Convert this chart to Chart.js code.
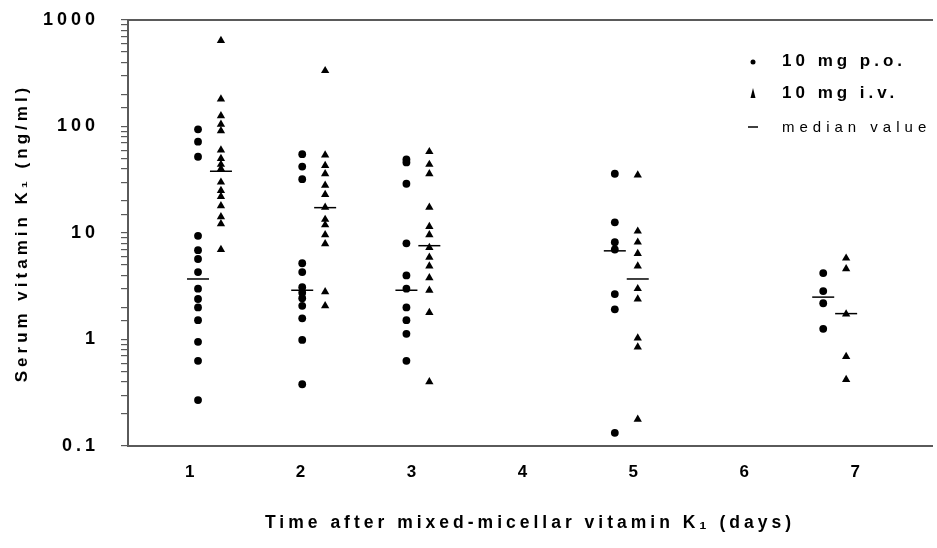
<!DOCTYPE html>
<html>
<head>
<meta charset="utf-8">
<script src="https://cdn.jsdelivr.net/npm/chart.js@4.4.1/dist/chart.umd.min.js"></script>
<style>
  body { margin: 0; background: #fff; }
  #wrap { width: 937px; height: 548px; }
</style>
</head>
<body>
<div id="wrap"><canvas id="myChart" width="937" height="548"></canvas></div>
<script>
"use strict";

// days with samples, and the day ticks along the axis
const days = [1, 2, 3, 5, 7];
const tickDays = [1, 2, 3, 4, 5, 6, 7];
const yTicks = [0.1, 1, 10, 100, 1000];
const yTickLabels = ['0.1', '1', '10', '100', '1000'];

// serum vitamin K1 (ng/ml), one list per day
const poValues = [
    [94, 72, 52, 9.4, 6.9, 5.7, 4.3, 3.0, 2.4, 2.0, 1.52, 0.95, 0.63, 0.27],
    [55, 42, 32, 5.2, 4.3, 3.1, 2.75, 2.44, 2.07, 1.58, 0.99, 0.38],
    [49, 46, 29, 8.0, 4.0, 3.0, 2.0, 1.52, 1.13, 0.63],
    [36, 12.6, 8.2, 7.0, 2.67, 1.92, 0.133],
    [4.2, 2.85, 2.19, 1.26]
];
const ivValues = [
    [640, 181, 126, 105, 91, 60, 50, 44, 40, 30, 25, 22, 18, 14.2, 12.2, 7.0],
    [334, 54, 43, 36, 28, 23, 17.4, 13.4, 11.9, 9.6, 7.9, 2.8, 2.07],
    [58, 44, 36, 17.4, 11.5, 9.6, 7.3, 5.9, 4.9, 3.8, 2.9, 1.79, 0.40],
    [35, 10.4, 8.2, 6.4, 4.9, 3.0, 2.4, 1.03, 0.85, 0.178],
    [5.8, 4.6, 1.73, 0.69, 0.42]
];
const poMedian = [3.7, 2.9, 2.9, 6.8, 2.5];
const ivMedian = [38, 17.3, 7.6, 3.7, 1.75];

const FONT = '"Liberation Sans", Arial, sans-serif';
const SHIFT = 0.11; // p.o. left of the day, i.v. right of it
let chart;

function toPoints(groups, shift) {
    let pts = [];
    groups.forEach((vals, i) => {
        vals.forEach(v => pts.push({ x: days[i] + shift, y: v }));
    });
    return pts;
}

function medianPoints(meds, shift) {
    return meds.map((v, i) => ({ x: days[i] + shift, y: v }));
}

// keep the scales from pushing the plot area inwards
function noPad(s) {
    s.paddingLeft = 0;
    s.paddingRight = 0;
    s.paddingTop = 0;
    s.paddingBottom = 0;
}

// the original uses widely spaced lettering everywhere
const spacingPlugin = {
    id: 'spacing',
    beforeUpdate(c) { c.ctx.letterSpacing = '4px'; },
    beforeDraw(c) { c.ctx.letterSpacing = '4px'; }
};

const sideLegend = {
    id: 'sideLegend',
    afterDraw(c) {
        const ctx = c.ctx;
        const ds = c.data.datasets;
        ctx.save();
        ctx.fillStyle = '#000';
        ctx.strokeStyle = '#000';
        ctx.textBaseline = 'middle';
        ctx.textAlign = 'left';

        // dot
        ctx.beginPath();
        ctx.arc(753, 62, 2.5, 0, Math.PI * 2);
        ctx.fill();
        // narrow triangle
        ctx.beginPath();
        ctx.moveTo(753, 88);
        ctx.lineTo(755.5, 98);
        ctx.lineTo(750.5, 98);
        ctx.closePath();
        ctx.fill();
        // dash
        ctx.lineWidth = 1.5;
        ctx.beginPath();
        ctx.moveTo(748, 127);
        ctx.lineTo(758, 127);
        ctx.stroke();

        ctx.letterSpacing = '4px';
        ctx.font = 'bold 17px ' + FONT;
        ctx.fillText(ds[0].label, 782, 61);
        ctx.fillText(ds[1].label, 782, 93);
        ctx.letterSpacing = '5px';
        ctx.font = '15px ' + FONT;
        ctx.fillText(ds[2].label, 782, 128);
        ctx.restore();
    }
};

function initChart() {
    var ctx = document.getElementById('myChart').getContext('2d');
    Chart.defaults.font.family = FONT;
    Chart.defaults.color = '#000';

    chart = new Chart(ctx, {
        type: 'scatter',
        data: {
            datasets: [{
                label: '10 mg p.o.',
                data: toPoints(poValues, -SHIFT),
                pointStyle: 'circle',
                pointRadius: 3.9,
                backgroundColor: '#000',
                borderWidth: 0
            },
            {
                label: '10 mg i.v.',
                data: toPoints(ivValues, SHIFT),
                pointStyle: 'triangle',
                pointRadius: 4.8,
                backgroundColor: '#000',
                borderWidth: 0
            },
            {
                label: 'median value',
                data: medianPoints(poMedian, -SHIFT),
                pointStyle: 'line',
                pointRadius: 11,
                borderColor: '#000',
                borderWidth: 1.5
            },
            {
                label: 'median value',
                data: medianPoints(ivMedian, SHIFT),
                pointStyle: 'line',
                pointRadius: 11,
                borderColor: '#000',
                borderWidth: 1.5
            }]
        },
        options: {
            responsive: false,
            animation: false,
            events: [],
            layout: {
                autoPadding: false,
                padding: { top: 20, right: 5, bottom: 0, left: 0 }
            },
            scales: {
                // data axis: places the marks
                x: {
                    type: 'linear',
                    position: 'bottom',
                    min: 0.218,
                    max: 7.934,
                    afterFit: s => { s.height = 0; noPad(s); },
                    ticks: { display: false },
                    grid: { display: false, drawTicks: false },
                    border: { display: false }
                },
                // day labels, spaced as in the original figure
                xl: {
                    type: 'linear',
                    position: 'bottom',
                    min: 0.426,
                    max: 7.675,
                    afterBuildTicks: s => { s.ticks = tickDays.map(v => ({ value: v })); },
                    afterFit: s => { s.height = 102; noPad(s); },
                    ticks: {
                        padding: 16,
                        font: { size: 17, weight: 'bold' },
                        color: '#000'
                    },
                    grid: { display: false, drawTicks: false },
                    border: { display: true, color: '#5a5a5a', width: 2 },
                    title: {
                        display: true,
                        text: 'Time after mixed-micellar vitamin K\u2081 (days)',
                        font: { size: 17.5, weight: 'bold' },
                        color: '#000',
                        padding: { top: 0, bottom: 14 }
                    }
                },
                x2: {
                    type: 'linear',
                    position: 'top',
                    min: 0,
                    max: 1,
                    afterFit: s => { s.height = 0; noPad(s); },
                    ticks: { display: false },
                    grid: { display: false, drawTicks: false },
                    border: { display: true, color: '#5a5a5a', width: 2 }
                },
                y: {
                    type: 'logarithmic',
                    min: 0.1,
                    max: 1000,
                    afterFit: s => { s.width = 128; noPad(s); },
                    ticks: {
                        autoSkip: false,
                        padding: 22,
                        font: { size: 18, weight: 'bold' },
                        color: '#000',
                        callback: function (value) {
                            let i = yTicks.findIndex(t => Math.abs(t - value) < t * 1e-6);
                            return i === -1 ? '' : yTickLabels[i];
                        }
                    },
                    grid: {
                        drawOnChartArea: false,
                        drawTicks: true,
                        tickLength: 7,
                        color: '#5a5a5a',
                        lineWidth: 1.2
                    },
                    border: { display: true, color: '#5a5a5a', width: 2 },
                    title: {
                        display: true,
                        text: 'Serum vitamin K\u2081 (ng/ml)',
                        font: { size: 17, weight: 'bold' },
                        color: '#000',
                        padding: { top: 12, bottom: 0 }
                    }
                }
            },
            plugins: {
                legend: { display: false },
                tooltip: { enabled: false }
            }
        },
        plugins: [spacingPlugin, sideLegend]
    });
}

initChart();
</script>
</body>
</html>
